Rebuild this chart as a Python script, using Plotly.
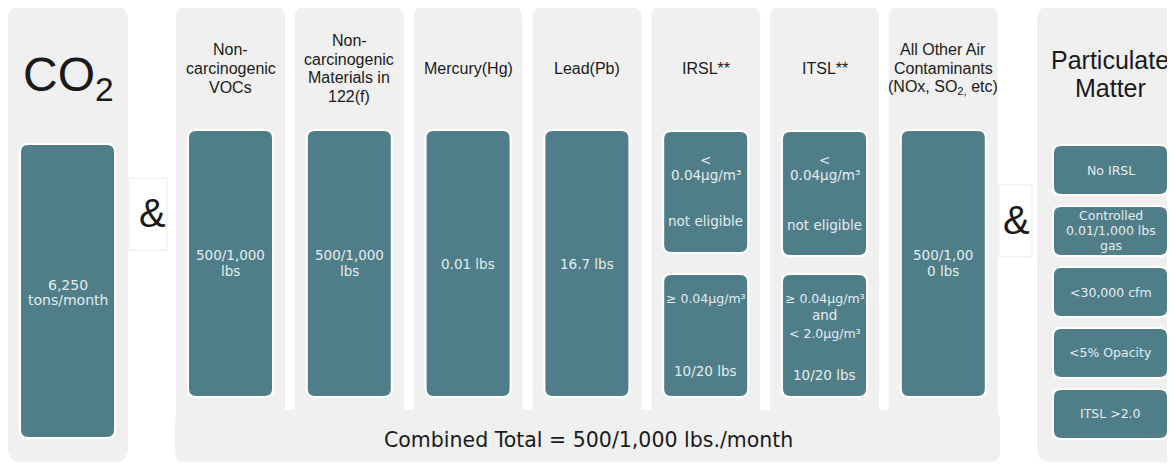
import plotly.graph_objects as go

# ---------------- data ----------------
co2_title = "CO<sub>2</sub>"
co2_value = ["6,250", "tons/month"]

column_titles = [
    ["Non-", "carcinogenic", "VOCs"],
    ["Non-", "carcinogenic", "Materials in", "122(f)"],
    ["Mercury(Hg)"],
    ["Lead(Pb)"],
    ["IRSL**"],
    ["ITSL**"],
    ["All Other Air", "Contaminants", "(NOx, SO<sub>2,</sub> etc)"],
]
column_values = [
    ["500/1,000", "lbs"],
    ["500/1,000", "lbs"],
    ["0.01 lbs"],
    ["16.7 lbs"],
    None,
    None,
    ["500/1,00", "0 lbs"],
]
irsl_boxes = [["&lt;", "0.04µg/m³", "not eligible"], ["≥ 0.04µg/m³", "10/20 lbs"]]
itsl_boxes = [["&lt;", "0.04µg/m³", "not eligible"],
              ["≥ 0.04µg/m³", "and", "&lt; 2.0µg/m³", "10/20 lbs"]]
pm_title = ["Particulate", "Matter"]
pm_items = [["No IRSL"], ["Controlled", "0.01/1,000 lbs", "gas"], ["&lt;30,000 cfm"],
            ["&lt;5% Opacity"], ["ITSL &gt;2.0"]]
combined_total = "Combined Total = 500/1,000 lbs./month"
amp = "&amp;"

# ---------------- style ----------------
GRAY = "#f0f0f0"
TEAL = "#4f7e89"
TTXT = "#e4ecee"
DARK = "#1a1a1a"
HFONT = "Liberation Sans"
BFONT = "DejaVu Sans"

W, H = 1175, 464
OFF = 8  # page body margin compensation
shapes = []
annots = []


def rrect(x0, y0, x1, y1, r, fill, line_color=None, lw=0, top_only=False):
    if top_only:
        p = (f"M{x0},{y1} L{x0},{y0+r} Q{x0},{y0} {x0+r},{y0} L{x1-r},{y0} "
             f"Q{x1},{y0} {x1},{y0+r} L{x1},{y1} Z")
    else:
        p = (f"M{x0+r},{y0} L{x1-r},{y0} Q{x1},{y0} {x1},{y0+r} L{x1},{y1-r} "
             f"Q{x1},{y1} {x1-r},{y1} L{x0+r},{y1} Q{x0},{y1} {x0},{y1-r} "
             f"L{x0},{y0+r} Q{x0},{y0} {x0+r},{y0} Z")
    shapes.append(dict(type="path", path=p, xref="x", yref="y", fillcolor=fill,
                       line=dict(color=line_color or fill, width=lw), layer="below"))


def text(x, y, s, size, color, family, **kw):
    annots.append(dict(x=x, y=y, xref="x", yref="y", text=s, showarrow=False,
                       xanchor="center", yanchor="middle",
                       font=dict(size=size, color=color, family=family), **kw))


def teal(x0, y0, x1, y1, lines, ys, size=13.5):
    rrect(x0, y0, x1, y1, 8, TEAL, "white", 2)
    for s, y in zip(lines, ys):
        sz = size if "≥" not in s and "2.0µg" not in s else size - 1
        text((x0 + x1) / 2, y, s, sz, TTXT, BFONT)


# CO2 panel
rrect(8, 6, 128, 462, 14, GRAY)
text(68, 78, co2_title, 48, DARK, HFONT)
teal(20, 144, 115, 438, co2_value, [285, 300], 14)

# ampersand boxes
rrect(129, 178, 167, 250, 0, "white", "#ebebeb", 1)
text(152, 213, amp, 40, DARK, HFONT)
rrect(999, 185, 1032, 257, 0, "white", "#ebebeb", 1)
text(1016, 220, amp, 40, DARK, HFONT)

# column panels + combined bar
rrect(175, 410, 1000, 462, 10, GRAY)
text(588, 440, combined_total, 20.5, DARK, BFONT)

for i, (title, val) in enumerate(zip(column_titles, column_values)):
    px0 = 176 + i * 118.8
    px1 = px0 + 109
    cx = (px0 + px1) / 2
    rrect(px0, 6, px1, 420, 12, GRAY, top_only=True)
    n = len(title)
    for k, s in enumerate(title):
        text(cx, 68.5 + (k - (n - 1) / 2) * 18.6, s, 16, DARK, HFONT)
    bx0, bx1 = px0 + 12, px0 + 97
    if val is not None:
        ys = [255, 271] if len(val) == 2 else [264]
        teal(bx0, 130, bx1, 397, val, ys)
    elif i == 4:
        teal(bx0, 131, bx1, 253, irsl_boxes[0], [160, 175, 221])
        teal(bx0, 274, bx1, 397, irsl_boxes[1], [298, 371])
    else:
        teal(bx0, 131, bx1, 256, itsl_boxes[0], [160, 175, 225])
        teal(bx0, 274, bx1, 397, itsl_boxes[1], [298, 315, 333, 375])

# Particulate Matter panel
rrect(1037, 6, 1195, 462, 14, GRAY)
text(1110, 60, pm_title[0], 25, DARK, HFONT)
text(1110, 88, pm_title[1], 25, DARK, HFONT)
pm_rows = [(145, 195), (206, 256), (267, 317), (328, 378), (389, 439)]
pm_ys = [[170], [215, 230, 245], [292], [352], [413]]
for item, (y0, y1), ys in zip(pm_items, pm_rows, pm_ys):
    teal(1053, y0, 1168, y1, item, ys, 12.5)

fig = go.Figure()
fig.update_layout(
    width=W, height=H, margin=dict(l=0, r=0, t=0, b=0),
    paper_bgcolor="white", plot_bgcolor="white",
    xaxis=dict(range=[OFF, W + OFF], visible=False, fixedrange=True),
    yaxis=dict(range=[H + OFF, OFF], visible=False, fixedrange=True),
    shapes=shapes, annotations=annots, showlegend=False,
)
fig.write_html("out.html")
